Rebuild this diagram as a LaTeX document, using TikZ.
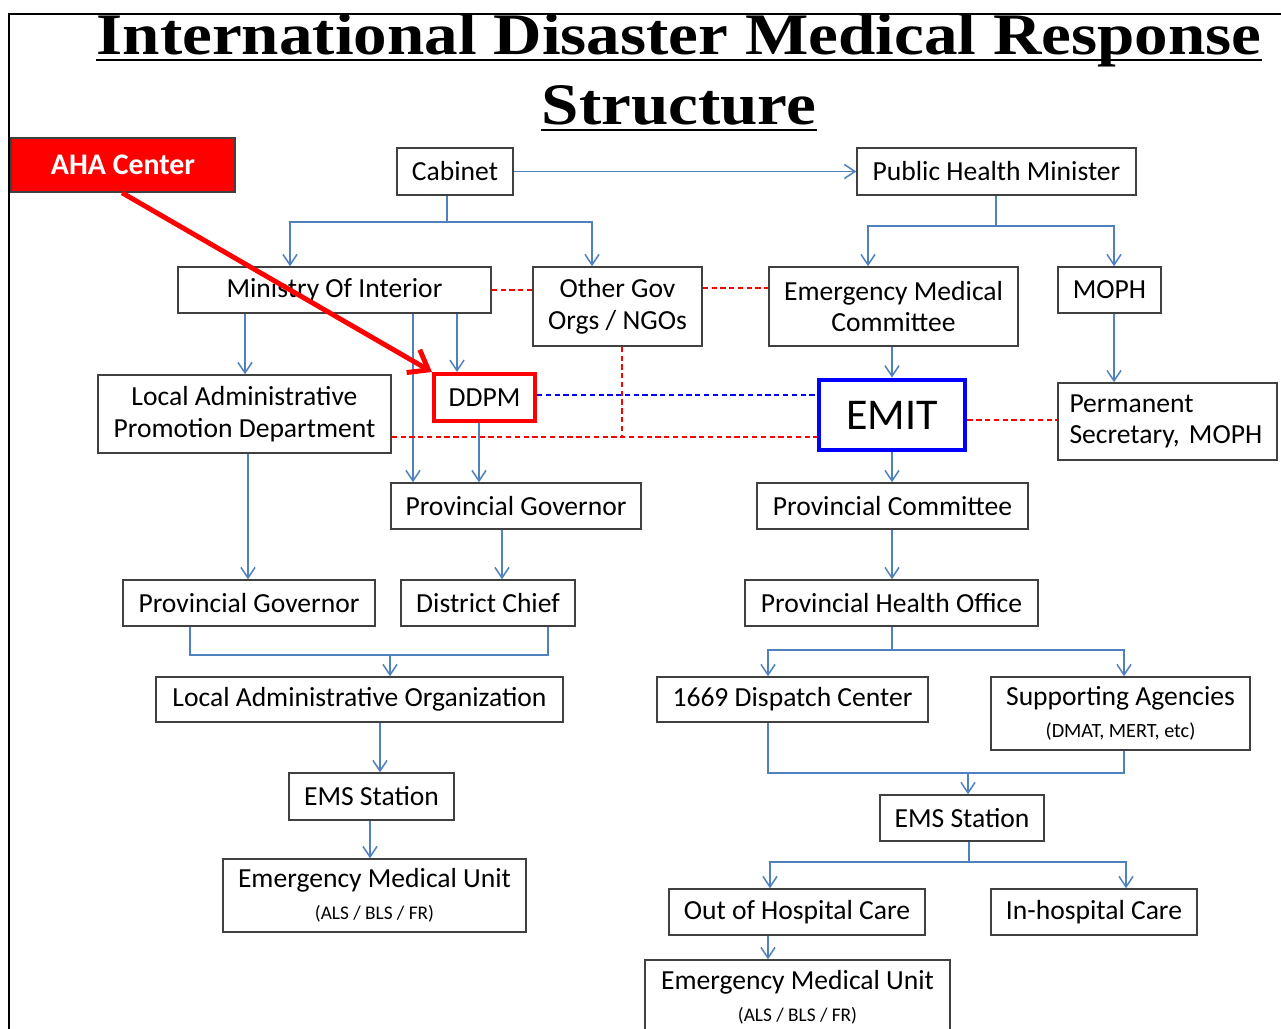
\documentclass[tikz,border=0pt]{standalone}
\usepackage{fontspec}
\setmainfont{Carlito}
\newfontfamily\headfont[FakeStretch=1.14]{Liberation Serif}
\usetikzlibrary{arrows.meta,calc}
\definecolor{linkblue}{RGB}{79,129,189}
\definecolor{boxline}{RGB}{64,64,64}

\begin{document}
\begin{tikzpicture}[x=0.02cm,y=-0.02cm,
  box/.style={draw=boxline, line width=0.85pt, fill=white, inner sep=0pt,
    align=center, font=\fontsize{15.7}{18}\selectfont},
  sz/.style 2 args={minimum width=#1*0.02cm, minimum height=#2*0.02cm},
  seg/.style={draw=linkblue, line width=0.85pt},
  link/.style={seg, -{Straight Barb[length=6pt,width=8pt,line width=0.85pt]}},
  rdash/.style={draw=red, line width=0.9pt, dash pattern=on 3pt off 2pt},
  bdash/.style={draw=blue, line width=0.9pt, dash pattern=on 3pt off 2pt},
  pointer/.style={draw=red, line width=2.8pt,
    -{Straight Barb[length=10pt,width=15pt,line width=2.8pt]}},
  headtext/.style={inner sep=0pt, font=\headfont\bfseries\fontsize{33.5}{40}\selectfont}
]
\useasboundingbox (0,0) rectangle (1281,1028);

% frame
\draw[black, line width=1.2pt] (9,1030) -- (9,14) -- (1283,14);

% heading
\node[headtext, anchor=base] (t1) at (679,54) {International Disaster Medical Response};
\node[headtext, anchor=base] (t2) at (679,124) {Structure};
\draw[line width=1.6pt] ($(t1.base west)+(0,6)$) -- ($(t1.base east)+(0,6)$);
\draw[line width=1.6pt] ($(t2.base west)+(0,6)$) -- ($(t2.base east)+(0,6)$);

% boxes
\node[box, sz={224}{54}, fill=red, font=\bfseries\fontsize{17}{20}\selectfont, text=white] (aha) at (123,165) {AHA Center};
\node[box, sz={116}{47}] (cab) at (455,171.5) {Cabinet};
\node[box, sz={279}{47}] (phm) at (996.5,171.5) {Public Health Minister};
\node[box, sz={313}{46}] (moi) at (334.5,290) {Ministry Of Interior};
\node[box, sz={169}{79}] (ogo) at (617.5,306.5) {Other Gov\\Orgs / NGOs};
\node[box, sz={249}{79}] (emc) at (893.5,306.5) {Emergency Medical\\Committee};
\node[box, sz={103}{46}] (moph) at (1109.5,290) {MOPH};
\node[box, sz={293}{78}] (lapd) at (244.5,414) {Local Administrative\\Promotion Department};
\node[box, sz={101}{47}, draw=red, line width=2.3pt] (ddpm) at (484.5,397.5) {DDPM};
\node[box, sz={146}{70}, draw=blue, line width=2.8pt, font=\fontsize{25}{30}\selectfont] (emit) at (892,415) {EMIT};
\node[box, sz={219}{77}, align=left, text width=196*0.02cm] (psec) at (1167.5,421.5) {Permanent\\Secretary, MOPH};
\node[box, sz={250}{46}] (pgc) at (516,506) {Provincial Governor};
\node[box, sz={271}{46}] (pcm) at (892.5,506) {Provincial Committee};
\node[box, sz={252}{46}] (pgl) at (249,603) {Provincial Governor};
\node[box, sz={174}{46}] (dch) at (488,603) {District Chief};
\node[box, sz={293}{46}] (pho) at (891.5,603) {Provincial Health Office};
\node[box, sz={407}{45}] (lao) at (359.5,699.5) {Local Administrative Organization};
\node[box, sz={271}{45}] (dsp) at (792.5,699.5) {1669 Dispatch Center};
\node[box, sz={259}{73}] (sup) at (1120.5,713.5) {Supporting Agencies\\{\fontsize{11.5}{14}\selectfont (DMAT, MERT, etc)}};
\node[box, sz={165}{47}] (emsl) at (371.5,796.5) {EMS Station};
\node[box, sz={164}{46}] (emsr) at (962,818) {EMS Station};
\node[box, sz={303}{73}] (emul) at (374.5,895.5) {Emergency Medical Unit\\{\fontsize{11}{14}\selectfont (ALS / BLS / FR)}};
\node[box, sz={256}{46}] (ohc) at (797,912) {Out of Hospital Care};
\node[box, sz={206}{46}] (ihc) at (1094,912) {In-hospital Care};
\node[box, sz={305}{75}] (emur) at (797.5,997.5) {Emergency Medical Unit\\{\fontsize{11}{14}\selectfont (ALS / BLS / FR)}};

% junction points
\coordinate (cj) at (447,222);
\coordinate (pj) at (996,226);
\coordinate (lj) at (390,655);
\coordinate (hj) at (892,650);
\coordinate (sj) at (968,773);
\coordinate (ej) at (969,862);
\coordinate (oj) at (622,437);

% reporting lines
\draw[link] (cab.east) -- (phm.west);
\draw[seg] (cab.south -| cj) -- (cj);
\draw[link] (cj) -| (moi.north -| 290,0);
\draw[link] (cj) -| (ogo.north -| 592,0);
\draw[seg] (phm.south -| pj) -- (pj);
\draw[link] (pj) -| (emc.north -| 868,0);
\draw[link] (pj) -| (moph.north -| 1114,0);

\draw[link] (moi.south -| 245,0) -- (lapd.north -| 245,0);
\draw[link] (moi.south -| 413,0) -- (pgc.north -| 413,0);
\draw[link] (moi.south -| 457,0) -- (ddpm.north -| 457,0);
\draw[link] (ddpm.south -| 479,0) -- (pgc.north -| 479,0);
\draw[link] (lapd.south -| 248,0) -- (pgl.north -| 248,0);
\draw[link] (pgc.south -| 502,0) -- (dch.north -| 502,0);
\draw[seg] (pgl.south -| 190,0) |- (lj);
\draw[seg] (dch.south -| 548,0) |- (lj);
\draw[link] (lj) -- (lao.north -| lj);
\draw[link] (lao.south -| 380,0) -- (emsl.north -| 380,0);
\draw[link] (emsl.south -| 370,0) -- (emul.north -| 370,0);

\draw[link] (emit.north |- emc.south) -- (emit.north);
\draw[link] (moph.south -| 1114,0) -- (psec.north -| 1114,0);
\draw[link] (emit.south) -- (pcm.north -| emit.south);
\draw[link] (pcm.south -| 892,0) -- (pho.north -| 892,0);
\draw[seg] (pho.south -| hj) -- (hj);
\draw[link] (hj) -| (dsp.north -| 768,0);
\draw[link] (hj) -| (sup.north -| 1124,0);
\draw[seg] (dsp.south -| 768,0) |- (sj);
\draw[seg] (sup.south -| 1124,0) |- (sj);
\draw[link] (sj) -- (emsr.north -| sj);
\draw[seg] (emsr.south -| ej) -- (ej);
\draw[link] (ej) -| (ohc.north -| 770,0);
\draw[link] (ej) -| (ihc.north -| 1126,0);
\draw[link] (ohc.south -| 768,0) -- (emur.north -| 768,0);

% coordination lines
\draw[rdash] (moi.east) -- (ogo.west |- moi.east);
\draw[rdash] (ogo.east |- 0,288) -- (emc.west |- 0,288);
\draw[rdash] (ogo.south -| oj) -- (oj);
\draw[rdash] (lapd.east |- oj) -- (emit.west |- oj);
\draw[rdash] (emit.east |- 0,420) -- (psec.west |- 0,420);
\draw[bdash] (ddpm.east |- 0,395) -- (emit.west |- 0,395);

% AHA Centre pointer
\draw[pointer] (aha.south -| 122,0) -- (ddpm.north west);
\end{tikzpicture}
\end{document}
